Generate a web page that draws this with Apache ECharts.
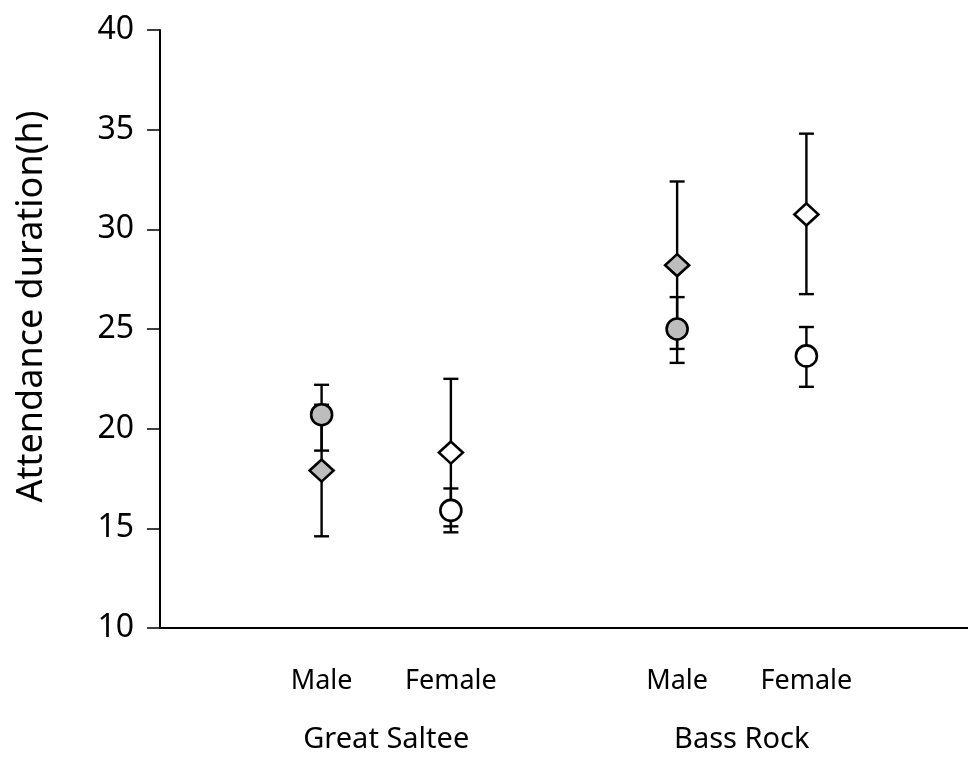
<!DOCTYPE html>
<html><head><meta charset="utf-8">
<script src="https://cdn.jsdelivr.net/npm/echarts@6/dist/echarts.min.js"></script>
<style>html,body{margin:0;padding:0;background:#fff}#c{width:968px;height:762px}</style>
</head><body><div id="c"></div>
<script>
// Data
var sexLabels = ['Male', 'Female', 'Male', 'Female'];
var sites = ['Great Saltee', 'Bass Rock'];
var xPos = [20, 36, 64, 80];            // position of each site/sex column on the x scale
var circleMean = [20.7, 15.9, 25.0, 23.65];
var circleHigh = [22.2, 17.0, 26.6, 25.1];
var circleLow  = [18.9, 14.8, 23.3, 22.1];
var diamondMean = [17.9, 18.8, 28.2, 30.75];
var diamondHigh = [21.2, 22.5, 32.4, 34.8];
var diamondLow  = [14.6, 15.1, 24.0, 26.75];
var filled = [true, false, true, false];
var yTicks = [10, 15, 20, 25, 30, 35, 40];

var FONT = '"Noto Sans"';
var siteCenters = [(xPos[0] + xPos[1]) / 2, (xPos[2] + xPos[3]) / 2];

function errData(mean, hi, lo) {
  return xPos.map(function (x, i) { return [x, lo[i], hi[i]]; });
}
function renderErr(params, api) {
  var x = api.value(0);
  var lo = api.coord([x, api.value(1)]);
  var hi = api.coord([x, api.value(2)]);
  var w = 7.5;
  var st = { stroke: '#000', lineWidth: 2.4 };
  return {
    type: 'group',
    children: [
      { type: 'line', shape: { x1: hi[0], y1: hi[1], x2: lo[0], y2: lo[1] }, style: st },
      { type: 'line', shape: { x1: hi[0] - w, y1: hi[1], x2: hi[0] + w, y2: hi[1] }, style: st },
      { type: 'line', shape: { x1: lo[0] - w, y1: lo[1], x2: lo[0] + w, y2: lo[1] }, style: st }
    ]
  };
}
function pts(mean) {
  return xPos.map(function (x, i) {
    return {
      value: [x, mean[i]],
      itemStyle: { color: filled[i] ? '#bdbdbd' : '#ffffff' }
    };
  });
}

var chart = echarts.init(document.getElementById('c'), null, { renderer: 'canvas' });
chart.setOption({
  animation: false,
  backgroundColor: '#fff',
  grid: { left: 160, top: 30, right: 0, bottom: 134 },
  xAxis: [{
    type: 'value', min: 0, max: 100,
    axisLine: { show: true, onZero: false, lineStyle: { color: '#000', width: 2 } },
    axisTick: { show: false },
    splitLine: { show: false },
    axisLabel: {
      customValues: xPos,
      formatter: function (v) { return sexLabels[xPos.indexOf(v)] || ''; },
      color: '#000', fontFamily: FONT, fontSize: 27, margin: 40
    }
  }, {
    type: 'value', min: 0, max: 100, position: 'bottom',
    axisLine: { show: false }, axisTick: { show: false }, splitLine: { show: false },
    axisLabel: {
      customValues: siteCenters,
      formatter: function (v) { return sites[siteCenters.indexOf(v)] || ''; },
      color: '#000', fontFamily: FONT, fontSize: 29, margin: 97
    }
  }],
  yAxis: {
    type: 'value', min: 10, max: 40, interval: 5,
    name: 'Attendance duration(h)', nameLocation: 'middle', nameGap: 110,
    nameTextStyle: { color: '#000', fontFamily: FONT, fontSize: 36, padding: [0, 0, 0, 45] },
    axisLine: { show: true, lineStyle: { color: '#000', width: 2 } },
    axisTick: { show: true, inside: false, length: 13, lineStyle: { color: '#000', width: 1.5 } },
    splitLine: { show: false },
    axisLabel: { color: '#000', fontFamily: FONT, fontSize: 32, margin: 26, padding: [0, 0, 4, 0] }
  },
  series: [
    { type: 'custom', renderItem: renderErr, data: errData(diamondMean, diamondHigh, diamondLow), z: 1, silent: true },
    { type: 'custom', renderItem: renderErr, data: errData(circleMean, circleHigh, circleLow), z: 1, silent: true },
    { type: 'scatter', symbol: 'diamond', symbolSize: [24, 22], data: pts(diamondMean), z: 3,
      itemStyle: { borderColor: '#000', borderWidth: 2.6, opacity: 1 } },
    { type: 'scatter', symbol: 'circle', symbolSize: 21, data: pts(circleMean), z: 3,
      itemStyle: { borderColor: '#000', borderWidth: 2.6, opacity: 1 } }
  ]
});
</script></body></html>
